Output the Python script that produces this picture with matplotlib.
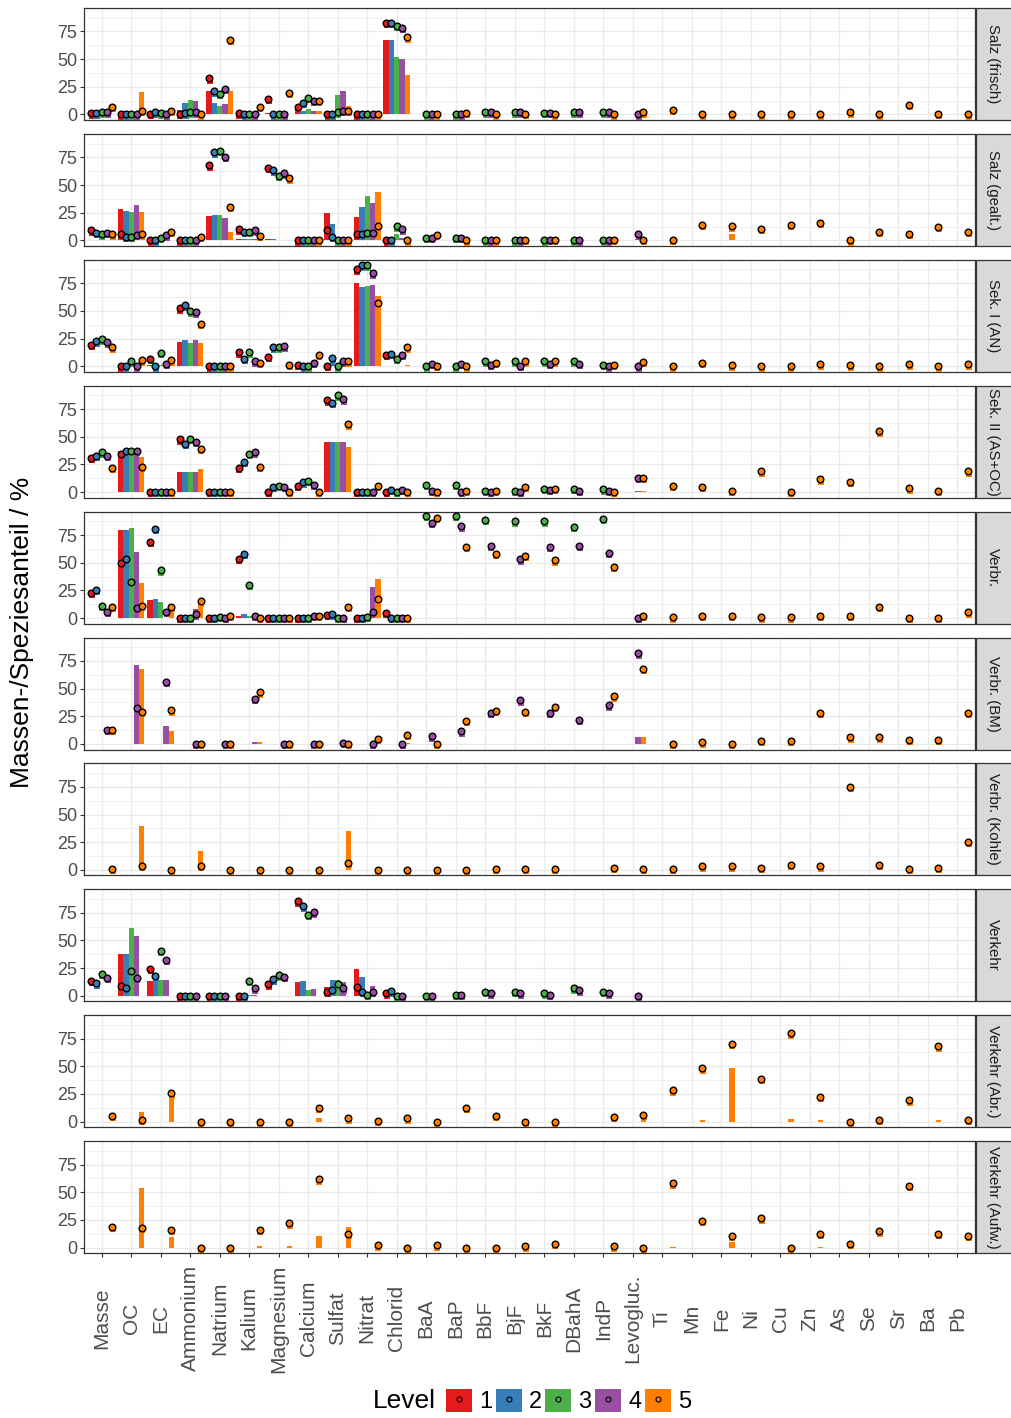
import numpy as np
import matplotlib
matplotlib.use('Agg')
import matplotlib.pyplot as plt
from matplotlib import transforms
from matplotlib.patches import Patch, Rectangle
from matplotlib.lines import Line2D

plt.rcParams['font.family'] = ['Liberation Sans', 'DejaVu Sans']

species = ['Masse', 'OC', 'EC', 'Ammonium', 'Natrium', 'Kalium', 'Magnesium',
           'Calcium', 'Sulfat', 'Nitrat', 'Chlorid', 'BaA', 'BaP', 'BbF', 'BjF',
           'BkF', 'DBahA', 'IndP', 'Levogluc.', 'Ti', 'Mn', 'Fe', 'Ni', 'Cu',
           'Zn', 'As', 'Se', 'Sr', 'Ba', 'Pb']
levels = ['1', '2', '3', '4', '5']
level_colors = ['#E41A1C', '#377EB8', '#4DAF4A', '#984EA3', '#FF7F00']
sources = ['Salz (frisch)', 'Salz (gealt.)', 'Sek. I (AN)', 'Sek. II (AS+OC)',
           'Verbr.', 'Verbr. (BM)', 'Verbr. (Kohle)', 'Verkehr',
           'Verkehr (Abr.)', 'Verkehr (Aufw.)']

n = None

# points: one list per level (1..5), one value per species, None = not available
salz_frisch_pts = [
    [1, 0, 0.5, 0.6, 32.5, 0.9, 13.8, 6.9, 0, 0, 83] + [n] * 19,
    [1, 0, 2, 1, 21, 0, 0, 10.5, 0, 0, 83] + [n] * 19,
    [2, 0, 1, 2, 18.4, 0, 0, 15, 2, 0, 79.8, 0, 0, 2, 2, 1.2, 2, 2] + [n] * 12,
    [2, 0, 0, 2, 22.9, 0, 0, 12.6, 3.3, 0, 78.3, 0, 0, 2, 1.8, 1.2, 2, 2, 0] + [n] * 11,
    [7, 3.5, 3.3, 0, 67.7, 6.6, 19.6, 12.6, 3.3, 0, 69.8, 0, 1.2, 0, 0.6, 0, n, 0, 1.8,
     4, 0, 0, 0, 0, 0, 1.8, 0, 8.9, 0.7, 0],
]
salz_frisch_bars = [
    [0, 0, 0, 4, 20.8, 0, 1, 1.8, 0, 0, 67.7],
    [0, 0, 0, 10, 10.8, 0, 0, 2.7, 0, 0, 67.7],
    [0, 0, 0, 13.5, 8.1, 0, 0, 4.5, 18, 0, 51.5],
    [0, 0, 0, 12.6, 9.9, 0, 0, 2.7, 20.8, 0, 49.7],
    [0, 20, 0, 0, 20.8, 0, 0, 2.7, 8.1, 0, 36.1],
]

salz_gealt_pts = [
    [9, 6, 0, 0, 67.7, 10, 65.3, 0, 9, 5.7, 0] + [n] * 19,
    [6.6, 3.3, 0, 0, 79.5, 7.8, 63.2, 0, 3.3, 5.7, 0] + [n] * 19,
    [5.4, 3.3, 2, 0, 80.7, 7.8, 58.1, 0, 0, 6.6, 12.6, 2, 2, 0, 0, 0, 0, 0] + [n] * 12,
    [6.6, 4.8, 4.5, 0, 75.5, 9, 60.5, 0, 0, 6.6, 10, 2, 2, 0, 0, 0.6, 0, 0, 5.5] + [n] * 11,
    [5.4, 5.4, 7.8, 3.3, 30, 4.2, 56, 0, 0, 12.6, 0, 4.8, 0, 0, 0.6, 0.6, n, 0.7, 0.7,
     0.7, 13.8, 12.8, 10.3, 13.8, 16, 0, 7.8, 5.7, 12.4, 7.8],
]
salz_gealt_bars = [
    [0, 28, 0, 0, 21.7, 1, 1.5, 0, 24.4, 20.8, 0],
    [0, 26.2, 0, 0, 22.6, 1, 1.5, 0, 14.4, 29.8, 0],
    [0, 25.3, 0, 0, 22.6, 1, 0.6, 0, 0, 39.7, 5.4],
    [0, 31.6, 0, 0, 19.9, 1, 0.6, 0, 0, 33.4, 2.4, 0, 0, 0, 0, 0, 0, 0, 1],
    [0, 25.3, 0, 0, 7.2, 0, 0.6, 0, 0, 43.3, 0, 0, 0, 0, 0, 0, 0, 0, 0, 0, 0, 6],
]

sek1_pts = [
    [19.3, 0, 6.6, 52.4, 0, 12.6, 8.7, 1.5, 0.6, 87.6, 10] + [n] * 19,
    [22.6, 0, 0, 55.1, 0, 6.6, 17.2, 0, 7.8, 91.2, 11.4] + [n] * 19,
    [24.4, 4.5, 12.3, 49.7, 0, 12.6, 17.2, 0, 0, 91.2, 6.6, 0, 0, 4.5, 4.5, 4.5, 4.5, 1.5] + [n] * 12,
    [21.7, 0, 2, 48.8, 0, 4.5, 18, 3.3, 4.5, 84, 10, 2, 2, 1.5, 0.6, 2, 2, 0, 0] + [n] * 11,
    [17.2, 5.4, 5.4, 38.2, 0, 3, 1.5, 10, 4.5, 57.2, 17.2, 0.6, 0, 3.3, 4.5, 4.5, n, 1.5, 4.3,
     0, 2.8, 0.7, 0, 0, 1.8, 0.7, 0, 1.8, 0, 1.8],
]
sek1_bars = [
    [0, 0, 1, 21.7, 0, 0, 0, 0, 0, 75, 0.6],
    [0, 0, 0, 23.5, 0, 0, 0, 0, 4, 71.3, 0.6],
    [0, 0, 1.5, 20.8, 0, 0, 0, 0, 0, 72.2, 0],
    [0, 0, 0, 23.5, 0, 0, 0, 0, 0, 73.1, 0.6],
    [0, 0, 1, 20.8, 0, 0, 0, 0.6, 0, 63.2, 1.5],
]

sek2_pts = [
    [31, 34.6, 0, 47.6, 0, 21.7, 0, 5.4, 83, 0, 0] + [n] * 19,
    [32.5, 37.6, 0, 43.6, 0, 27.4, 5.1, 9, 80.4, 0, 1.8] + [n] * 19,
    [36.1, 37.6, 0, 48.2, 0, 34.9, 6, 10, 87.6, 0, 0, 6.6, 6.6, 1.5, 1.5, 3, 3, 2.5] + [n] * 12,
    [33.1, 37.6, 0, 45.2, 0, 36.1, 4.8, 6.6, 84, 0, 1.8, 1.5, 0.6, 0, 0.6, 2, 1.5, 1, 13] + [n] * 11,
    [21.7, 22.9, 0, 39.1, 0, 22.9, 0, 0, 61.4, 5.4, 0, 0.6, 1.5, 1.5, 4.5, 3, n, 0, 13,
     5.7, 4.6, 1, 18.8, 0, 11.7, 9.2, 55, 3.5, 1, 18.8],
]
sek2_bars = [
    [0, 37.6, 0, 18, 0, 0.6, 0, 0, 45.2],
    [0, 37.6, 0, 18, 0, 0.6, 0, 0, 45.2],
    [0, 37.6, 0, 18, 0, 0.6, 0, 0, 45.2],
    [0, 37.6, 0, 18, 0, 0.6, 0, 0, 45.2, 0, 0, 0, 0, 0, 0, 0, 0, 0, 0.7],
    [0, 31.6, 0, 20.8, 0, 0.6, 0, 0, 40.6, 0, 0, 0, 0, 0, 0, 0, 0, 0, 0.7],
]

verbr_pts = [
    [23.1, 50.1, 68.7, 0, 0, 53.7, 0, 0, 3, 0, 4.5] + [n] * 19,
    [25.5, 53.7, 80.7, 0, 0, 58.2, 0, 0, 3.3, 0, 0] + [n] * 19,
    [11.1, 32.7, 43.2, 0, 1.2, 30.3, 0, 0, 0, 1.2, 0, 92.1, 92.1, 88.5, 87.3, 87.3, 82.5, 89.7] + [n] * 12,
    [5.7, 9.3, 5.7, 3.3, 0, 2.1, 0, 2.1, 0, 5.7, 0, 86.1, 82.8, 65.4, 53.1, 64.2, 65.4, 59.1, 0] + [n] * 11,
    [10.2, 11.1, 10.2, 15, 2.1, 0, 0, 2.1, 10.2, 17.4, 0, 90.6, 64.2, 58.2, 56.1, 52.2, n, 46.2, 1.8,
     0.7, 1.8, 1.8, 0.7, 0.7, 1.8, 1.8, 10, 0, 0, 5.3],
]
verbr_bars = [
    [0, 79.5, 16.5, 0, 0, 1.8, 0, 0, 0, 0, 3],
    [0, 79.5, 17.4, 0, 0, 3.6],
    [0, 81.3, 14.7, 0, 0, 1.8],
    [0, 59.7, 0, 8.4, 0, 0, 0, 0, 0, 28.2],
    [0, 31.8, 5.7, 17.1, 0, 0, 0, 0, 0, 35.4],
]

verbr_bm_pts = [
    [n] * 30,
    [n] * 30,
    [n] * 30,
    [12.6, 32.8, 56, 0, 0, 40.9, 0, 0, 1, 0, 0, 6.9, 11.4, 28, 39.4, 28, 22, 34.9, 81.9] + [n] * 11,
    [12.6, 29.2, 30.4, 0, 0, 46.7, 0, 0, 0, 4.5, 8.1, 0, 20.8, 30.1, 28.9, 33.7, n, 43, 67.8,
     0, 1.4, 0, 2.5, 2.5, 28.4, 6, 6, 3.5, 3.5, 28.4],
]
verbr_bm_bars = [
    [], [], [],
    [0, 71.3, 16.3, 0, 0, 1.5, 0, 0, 0, 0, 0, 0, 0, 0, 0, 0, 0, 0, 6.7],
    [0, 67.7, 11.7, 0, 0, 1.5, 0, 0, 0, 5, 1, 0, 0, 0, 0, 0, 0, 0, 6],
]

verbr_kohle_pts = [
    [n] * 30,
    [n] * 30,
    [n] * 30,
    [n] * 30,
    [1, 3.6, 0, 3.6, 0, 0, 0, 0, 6.3, 0, 0, 0, 0, 1, 1, 1, n, 1.8, 0.7,
     0.7, 3.2, 3.2, 1.8, 4.3, 3.2, 75, 4.3, 0.7, 1.8, 25],
]
verbr_kohle_bars = [
    [], [], [], [],
    [0, 40, 0, 17.2, 0, 0, 0, 0, 35.3],
]

verkehr_pts = [
    [13.5, 9, 24.4, 0, 0, 0, 10.2, 85.2, 3.3, 8.1, 2.1] + [n] * 19,
    [11.1, 6.6, 17.5, 0, 0, 0, 14.7, 80.7, 4.8, 3.3, 3.9] + [n] * 19,
    [19.6, 22, 40.6, 0, 0, 13.5, 18.4, 73.4, 10.2, 0.6, 0, 0, 0.9, 3.3, 3.3, 2.1, 6.6, 3.3] + [n] * 12,
    [16, 16, 32.5, 0, 0, 6.6, 17.2, 75.5, 6.6, 3.3, 0, 0, 0.9, 2.1, 2.1, 0.6, 4.8, 2.1, 0] + [n] * 11,
    [n] * 30,
]
verkehr_bars = [
    [0, 37.9, 13.5, 0, 0, 0, 0, 12.6, 8.1, 24.4],
    [0, 37.9, 13.5, 0, 0, 0, 0, 13.5, 14.4, 17.2],
    [0, 61.4, 14.4, 0, 0, 0.6, 0, 5.4, 14.4, 0],
    [0, 54.2, 14.4, 0, 0, 0.6, 0, 6.3, 12.6, 9],
    [],
]

verkehr_abr_pts = [
    [n] * 30,
    [n] * 30,
    [n] * 30,
    [n] * 30,
    [5.4, 1.8, 25.6, 0, 0, 0, 0, 12.3, 3, 0.9, 3, 0, 12.3, 5.4, 0, 0, n, 4.5, 6,
     28.4, 48.3, 70.3, 39, 79.9, 22.7, 0, 1.8, 19.2, 68, 1.8],
]
verkehr_abr_bars = [
    [], [], [], [],
    [0, 9, 24.4, 0, 0, 0, 0, 3.6, 0, 0, 0, 0, 0, 0, 0, 0, 0, 0, 2,
     0, 1.8, 48.6, 0, 2.8, 1.8, 0, 0, 0, 1.8, 0],
]

verkehr_aufw_pts = [
    [n] * 30,
    [n] * 30,
    [n] * 30,
    [n] * 30,
    [18.7, 17.5, 16.3, 0, 0, 16.3, 22, 61.7, 12.6, 2.1, 0, 2.1, 0, 0, 1.2, 3.3, n, 1.2, 0,
     57.9, 24.1, 10.3, 26.3, 0, 12.4, 3.2, 14.6, 55.7, 12.4, 10.3],
]
verkehr_aufw_bars = [
    [], [], [], [],
    [0, 53.6, 9.3, 0, 0, 1.2, 1.2, 10.2, 18.4, 0, 0, 0, 0, 0, 0, 0, 0, 0, 0,
     0.7, 0, 4.6, 0, 0, 0.7],
]

panels = [
    (salz_frisch_pts, salz_frisch_bars),
    (salz_gealt_pts, salz_gealt_bars),
    (sek1_pts, sek1_bars),
    (sek2_pts, sek2_bars),
    (verbr_pts, verbr_bars),
    (verbr_bm_pts, verbr_bm_bars),
    (verbr_kohle_pts, verbr_kohle_bars),
    (verkehr_pts, verkehr_bars),
    (verkehr_abr_pts, verkehr_abr_bars),
    (verkehr_aufw_pts, verkehr_aufw_bars),
]

W, H = 1011, 1418
fig = plt.figure(figsize=(W / 100, H / 100), dpi=100)

x = np.arange(len(species))
dodge = [-0.36, -0.18, 0.0, 0.18, 0.36]
border = '#333333'

for k, src in enumerate(sources):
    top = 8 + 125.9 * k
    ax = fig.add_axes([84 / W, 1 - (top + 112) / H, 891 / W, 112 / H])
    pts, bars = panels[k]
    # little coloured square peeking out under each point
    shadow = transforms.offset_copy(ax.transData, fig=fig, x=0.6, y=-2.3, units='dots')

    for j in range(5):
        hb = bars[j]
        if len(hb):
            ax.bar(x[:len(hb)] + dodge[j], hb, width=0.18, color=level_colors[j],
                   linewidth=0, zorder=2)
    for j in range(5):
        xs = [x[i] + dodge[j] for i, v in enumerate(pts[j]) if v is not None]
        ys = [v for v in pts[j] if v is not None]
        ax.plot(xs, ys, 's', ms=4.6, color=level_colors[j], mew=0,
                transform=shadow, zorder=3)
        ax.plot(xs, ys, 'o', ms=4.8, mfc=level_colors[j], mec='black',
                mew=1.0, zorder=4)

    ax.set_xlim(-0.6, 29.6)
    ax.set_ylim(-5, 96.2)
    ax.set_yticks([0, 25, 50, 75])
    ax.set_yticks([12.5, 37.5, 62.5, 87.5], minor=True)
    ax.set_xticks(x)
    ax.set_axisbelow(True)
    ax.grid(which='major', color='#EBEBEB', linewidth=1.0)
    ax.grid(which='minor', axis='y', color='#EBEBEB', linewidth=0.5)
    for sp in ax.spines.values():
        sp.set_color(border)
        sp.set_linewidth(0.9)
    ax.tick_params(axis='y', which='major', length=3, width=0.8, color=border,
                   labelcolor='#4D4D4D', labelsize=13, pad=2)
    ax.tick_params(which='minor', length=0)
    if k < len(sources) - 1:
        ax.tick_params(axis='x', length=0, labelbottom=False)
    else:
        ax.tick_params(axis='x', length=3, width=0.8, color=border,
                       labelcolor='#4D4D4D', labelsize=15, pad=44)
        ax.set_xticklabels(species, rotation=90, ha='center', va='center')

    # facet strip on the right
    fig.add_artist(Rectangle((975.5 / W, 1 - (top + 112) / H), 40 / W, 112 / H,
                             transform=fig.transFigure, facecolor='#D9D9D9',
                             edgecolor=border, linewidth=0.9))
    fig.text(993 / W, 1 - (top + 56) / H, src, rotation=270, ha='center',
             va='center', fontsize=10.8, color='#1A1A1A')

fig.text(22 / W, 1 - 632 / H, 'Massen-/Speziesanteil / %', rotation=90,
         ha='center', va='center', fontsize=19)

# legend: filled key with point on top
handles = [(Patch(facecolor=c, edgecolor='none'),
            Line2D([], [], marker='o', ls='none', ms=3.6, mfc=c, mec='black', mew=0.8))
           for c in level_colors]
fig.text(373 / W, 1 - 1401 / H, 'Level', ha='left', va='center', fontsize=19)
fig.legend(handles, levels, loc='center left',
           bbox_to_anchor=(446 / W, 1 - 1401 / H), ncol=5, frameon=False,
           fontsize=17, handlelength=1.1, handleheight=1.15, handletextpad=0.3,
           columnspacing=0.15, borderpad=0, borderaxespad=0)

fig.savefig('out.png', dpi=100)
